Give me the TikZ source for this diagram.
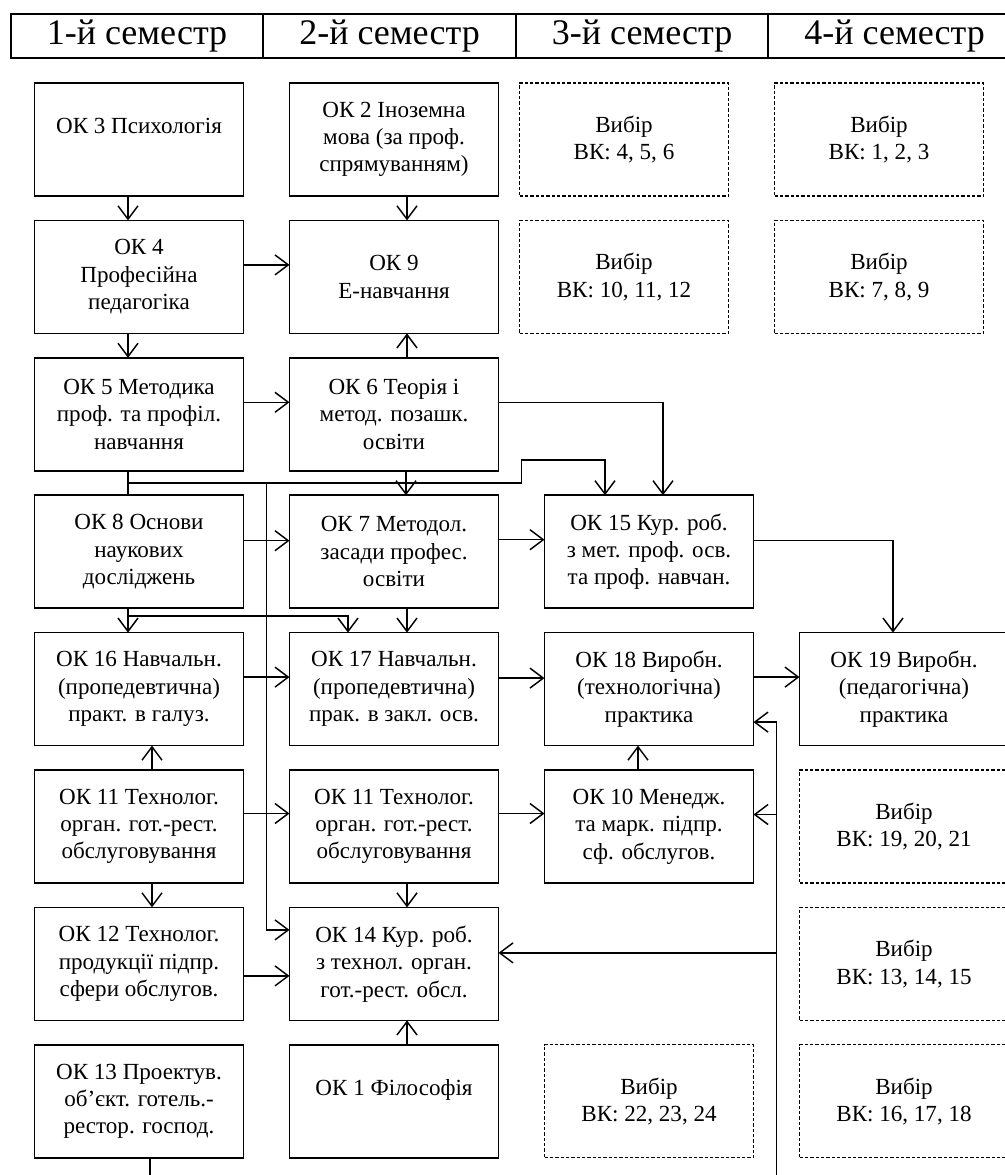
\documentclass[tikz,border=0pt]{standalone}
\usepackage{fontspec}
\setmainfont{Liberation Serif}
\usetikzlibrary{positioning,arrows.meta,calc}
\tikzset{
  flow/.style={-{Straight Barb[length=10pt,width=15pt]},line width=1.1pt},
  link/.style={line width=1.1pt},
  okbox/.style={draw,line width=1.1pt,minimum width=156.75pt,minimum height=84.75pt,
    inner sep=0pt,outer sep=0pt,align=center,font=\fontsize{17.3}{20.5}\selectfont},
  vkbox/.style={okbox,line width=0.9pt,dash pattern=on 2.5pt off 1.5pt},
  semcell/.style={draw,line width=1.4pt,minimum width=189.4pt,minimum height=33pt,
    inner sep=0pt,outer sep=0pt,font=\fontsize{27}{30}\selectfont}
}

\begin{document}
\begin{tikzpicture}[x=0.75pt,y=-0.75pt,node distance=18.3pt and 34.5pt]
  \useasboundingbox (0,0) rectangle (1004,1175);

  % semester header
  \node[semcell] (sem1) at (137,36) {1-й семестр};
  \node[semcell,right=0pt of sem1] (sem2) {2-й семестр};
  \node[semcell,right=0pt of sem2] (sem3) {3-й семестр};
  \node[semcell,right=0pt of sem3] (sem4) {4-й семестр};

  % courses
  \node[okbox] (ok3) at (139,139.5) {ОК 3 Психологія\\~};
  \node[okbox,right=of ok3] (ok2) {ОК 2 Іноземна\\мова (за проф.\\спрямуванням)};
  \node[vkbox,right=15.75pt of ok2] (vk4) {Вибір\\ВК: 4, 5, 6};
  \node[vkbox,right=of vk4] (vk1) {Вибір\\ВК: 1, 2, 3};
  \node[okbox,below=of ok3] (ok4) {ОК 4\\Професійна\\педагогіка};
  \node[okbox,below=of ok2] (ok9) {ОК 9\\Е-навчання};
  \node[vkbox,below=of vk4] (vk10) {Вибір\\ВК: 10, 11, 12};
  \node[vkbox,below=of vk1] (vk7) {Вибір\\ВК: 7, 8, 9};
  \node[okbox,below=of ok4] (ok5) {ОК 5 Методика\\проф. та профіл.\\навчання};
  \node[okbox,below=of ok9] (ok6) {ОК 6 Теорія і\\метод. позашк.\\освіти};
  \node[okbox,below=of ok5] (ok8) {ОК 8 Основи\\наукових\\досліджень};
  \node[okbox,below=of ok6] (ok7) {ОК 7 Методол.\\засади профес.\\освіти};
  \node[okbox,right=of ok7] (ok15) {ОК 15 Кур. роб.\\з мет. проф. осв.\\та проф. навчан.};
  \node[okbox,below=of ok8] (ok16) {ОК 16 Навчальн.\\(пропедевтична)\\практ. в галуз.};
  \node[okbox,below=of ok7] (ok17) {ОК 17 Навчальн.\\(пропедевтична)\\прак. в закл. осв.};
  \node[okbox,below=of ok15] (ok18) {ОК 18 Виробн.\\(технологічна)\\практика};
  \node[okbox,right=of ok18] (ok19) {ОК 19 Виробн.\\(педагогічна)\\практика};
  \node[okbox,below=of ok16] (ok11a) {ОК 11 Технолог.\\орган. гот.-рест.\\обслуговування};
  \node[okbox,below=of ok17] (ok11b) {ОК 11 Технолог.\\орган. гот.-рест.\\обслуговування};
  \node[okbox,below=of ok18] (ok10) {ОК 10 Менедж.\\та марк. підпр.\\сф. обслугов.};
  \node[vkbox,below=of ok19] (vk19) {Вибір\\ВК: 19, 20, 21};
  \node[okbox,below=of ok11a] (ok12) {ОК 12 Технолог.\\продукції підпр.\\сфери обслугов.};
  \node[okbox,below=of ok11b] (ok14) {ОК 14 Кур. роб.\\з технол. орган.\\гот.-рест. обсл.};
  \node[vkbox,below=of vk19] (vk13) {Вибір\\ВК: 13, 14, 15};
  \node[okbox,below=of ok12] (ok13) {ОК 13 Проектув.\\об’єкт. готель.-\\рестор. господ.};
  \node[okbox,below=of ok14] (ok1) {ОК 1 Філософія\\~};
  \node[vkbox,right=of ok1] (vk22) {Вибір\\ВК: 22, 23, 24};
  \node[vkbox,below=of vk13] (vk16) {Вибір\\ВК: 16, 17, 18};

  % gaps between columns
  \coordinate (j5) at ($(ok5.south)+(-11,12)$);
  \coordinate (gapL) at ($(ok5.east)!0.5!(ok6.west)$);
  \coordinate (gapM) at ($(ok6.east)!0.5!(ok15.west)$);
  \coordinate (gapR) at ($(ok18.east)!0.5!(ok19.west)$);

  % vertical links
  \draw[flow] ($(ok3.south)+(-11,0)$) -- ($(ok4.north)+(-11,0)$);
  \draw[flow] ($(ok4.south)+(-11,0)$) -- ($(ok5.north)+(-11,0)$);
  \draw[link] ($(ok5.south)+(-11,0)$) -- ($(ok8.north)+(-11,0)$);
  \draw[flow] ($(ok8.south)+(-11,0)$) -- ($(ok16.north)+(-11,0)$);
  \draw[flow] ($(ok8.south)+(-11,8)$) -| ($(ok17.north)+(-46,0)$);
  \draw[flow] ($(ok11a.north)+(13,0)$) -- ($(ok16.south)+(13,0)$);
  \draw[flow] ($(ok11a.south)+(13,0)$) -- ($(ok12.north)+(13,0)$);
  \draw[flow] ($(ok2.south)+(13,0)$) -- ($(ok9.north)+(13,0)$);
  \draw[flow] ($(ok6.north)+(13,0)$) -- ($(ok9.south)+(13,0)$);
  \draw[flow] ($(ok6.south)+(12,0)$) -- ($(ok7.north)+(12,0)$);
  \draw[flow] ($(ok7.south)+(13,0)$) -- ($(ok17.north)+(13,0)$);
  \draw[flow] ($(ok11b.south)+(13,0)$) -- ($(ok14.north)+(13,0)$);
  \draw[flow] ($(ok1.north)+(13,0)$) -- ($(ok14.south)+(13,0)$);
  \draw[flow] ($(ok10.north)+(-11,0)$) -- ($(ok18.south)+(-11,0)$);

  % horizontal links
  \draw[flow] ($(ok4.east)+(0,-12)$) -- ($(ok9.west)+(0,-12)$);
  \draw[flow] ($(ok5.east)+(0,-12)$) -- ($(ok6.west)+(0,-12)$);
  \draw[flow] ($(ok8.east)+(0,-11)$) -- ($(ok7.west)+(0,-11)$);
  \draw[flow] ($(ok7.east)+(0,-12)$) -- ($(ok15.west)+(0,-12)$);
  \draw[flow] ($(ok16.east)+(0,-12)$) -- ($(ok17.west)+(0,-12)$);
  \draw[flow] ($(ok17.east)+(0,-11)$) -- ($(ok18.west)+(0,-11)$);
  \draw[flow] ($(ok18.east)+(0,-12)$) -- ($(ok19.west)+(0,-12)$);
  \draw[flow] ($(ok11a.east)+(0,-13)$) -- ($(ok11b.west)+(0,-13)$);
  \draw[flow] ($(ok11b.east)+(0,-13)$) -- ($(ok10.west)+(0,-13)$);
  \draw[flow] ($(ok12.east)+(0,12)$) -- ($(ok14.west)+(0,12)$);
  \draw[flow] ($(ok6.east)+(0,-12)$) -| ($(ok15.north)+(14,0)$);
  \draw[flow] ($(ok15.east)+(0,-11)$) -| ($(ok19.north)+(-11,0)$);

  % bus under OK 5
  \draw[flow] (j5) -- (j5 -| gapM) -- ++(0,-23) -| ($(ok15.north)+(-44,0)$);
  \draw[flow] (j5 -| gapL) |- ($(ok14.west)+(0,-34)$);

  % bus from OK 13
  \draw[link] ($(ok13.south)+(11,0)$) -- ++(0,40) -| ($(gapR |- ok18)+(0,33)$);
  \draw[flow] ($(gapR |- ok18)+(0,33)$) -- ($(ok18.east)+(0,33)$);
  \draw[flow] ($(gapR |- ok10)+(0,-12)$) -- ($(ok10.east)+(0,-12)$);
  \draw[flow] ($(gapR |- ok14)+(0,-11)$) -- ($(ok14.east)+(0,-11)$);
\end{tikzpicture}
\end{document}
